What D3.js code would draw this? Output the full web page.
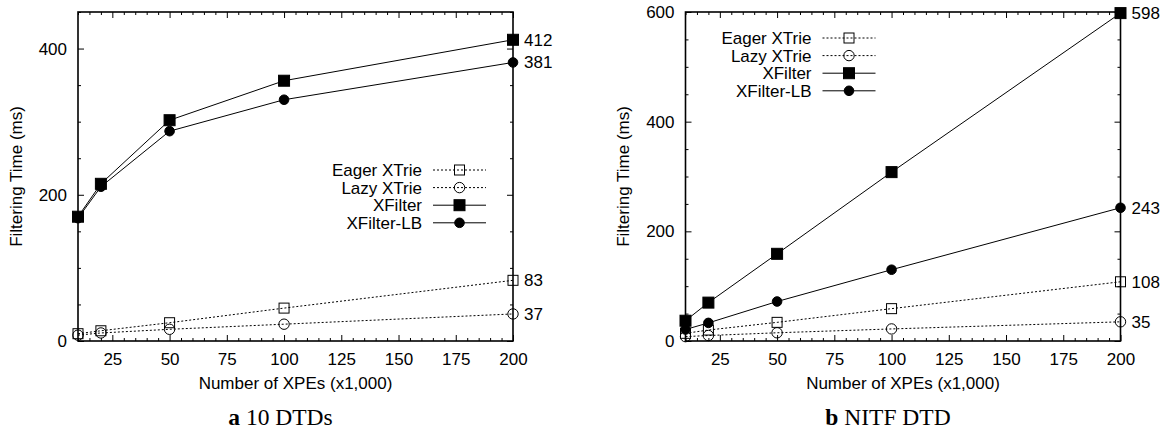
<!DOCTYPE html>
<html>
<head>
<meta charset="utf-8">
<script src="https://cdn.jsdelivr.net/npm/d3@7"></script>
<style>
  body { margin: 0; background: #fff; }
  svg { display: block; }
  text { font-family: "Liberation Sans", Arial, sans-serif; font-size: 17px; fill: #000; }
  .caption { font-family: "Liberation Serif", "Times New Roman", serif; font-size: 23.5px; }
</style>
</head>
<body>
<div class="chart-container"></div>
<script>
// x values (thousands of XPEs)
var xValues = [10, 20, 50, 100, 200];
var seriesNames = ["Eager XTrie", "Lazy XTrie", "XFilter", "XFilter-LB"];

// panel a: 10 DTDs
var aEager = [10, 14, 25, 45, 83];
var aLazy = [8, 11, 16, 23, 37];
var aXFilter = [170, 215, 302, 356, 412];
var aXFilterLB = [168, 211, 287, 330, 381];

// panel b: NITF DTD
var bEager = [14, 20, 34, 59, 108];
var bLazy = [8, 10, 15, 22, 35];
var bXFilter = [37, 70, 159, 308, 598];
var bXFilterLB = [21, 33, 72, 130, 243];

var xTickLabels = [25, 50, 75, 100, 125, 150, 175, 200];
var aYTicks = [0, 200, 400];
var bYTicks = [0, 200, 400, 600];

var styles = [
    { dash: "2,2", marker: "square", fill: "none" },
    { dash: "2,2", marker: "circle", fill: "none" },
    { dash: null, marker: "square", fill: "#000" },
    { dash: null, marker: "circle", fill: "#000" }
];

var svg = d3.select(".chart-container").append("svg")
    .attr("width", 1163)
    .attr("height", 435);

drawPanel({
    left: 78, top: 12, width: 435, height: 329,
    yMax: 450, yTicks: aYTicks,
    series: [aEager, aLazy, aXFilter, aXFilterLB],
    legend: { x: 344, y: 158 },
    ylabelX: 22,
    caption: ["a", " 10 DTDs"]
});

drawPanel({
    left: 685.5, top: 12, width: 435, height: 329,
    yMax: 600, yTicks: bYTicks,
    series: [bEager, bLazy, bXFilter, bXFilterLB],
    legend: { x: 126, y: 26 },
    ylabelX: 629,
    caption: ["b", " NITF DTD"]
});

function drawPanel(cfg) {
    var x = d3.scaleLinear().domain([10, 200]).range([0, cfg.width]);
    var y = d3.scaleLinear().domain([0, cfg.yMax]).range([cfg.height, 0]);

    var g = svg.append("g")
        .attr("transform", "translate(" + cfg.left + "," + cfg.top + ")");

    var xMinor = d3.range(10, 201, 5).filter(function (d) { return xTickLabels.indexOf(d) < 0; });
    var yMinor = d3.range(0, cfg.yMax + 1, 50).filter(function (d) { return cfg.yTicks.indexOf(d) < 0; });

    // major ticks + labels, inward
    g.append("g")
        .attr("transform", "translate(0," + cfg.height + ")")
        .call(d3.axisBottom(x).tickValues(xTickLabels).tickSizeInner(-6).tickSizeOuter(0).tickPadding(12));
    g.append("g")
        .call(d3.axisLeft(y).tickValues(cfg.yTicks).tickSizeInner(-6).tickSizeOuter(0).tickPadding(11));
    // mirrored ticks
    g.append("g")
        .call(d3.axisTop(x).tickValues(xTickLabels).tickSizeInner(-6).tickSizeOuter(0).tickFormat(""));
    g.append("g")
        .attr("transform", "translate(" + cfg.width + ",0)")
        .call(d3.axisRight(y).tickValues(cfg.yTicks).tickSizeInner(-6).tickSizeOuter(0).tickFormat(""));
    // minor ticks
    g.append("g")
        .attr("transform", "translate(0," + cfg.height + ")")
        .call(d3.axisBottom(x).tickValues(xMinor).tickSizeInner(-3).tickSizeOuter(0).tickFormat(""));
    g.append("g")
        .call(d3.axisTop(x).tickValues(xMinor).tickSizeInner(-3).tickSizeOuter(0).tickFormat(""));
    g.append("g")
        .call(d3.axisLeft(y).tickValues(yMinor).tickSizeInner(-3).tickSizeOuter(0).tickFormat(""));
    g.append("g")
        .attr("transform", "translate(" + cfg.width + ",0)")
        .call(d3.axisRight(y).tickValues(yMinor).tickSizeInner(-3).tickSizeOuter(0).tickFormat(""));

    g.selectAll(".domain").remove();
    g.selectAll(".tick line").attr("stroke", "#000").attr("stroke-width", 1);
    g.selectAll(".tick text").attr("font-size", null).attr("font-family", null);

    g.append("rect")
        .attr("width", cfg.width).attr("height", cfg.height)
        .attr("fill", "none").attr("stroke", "#000").attr("stroke-width", 1.6);

    // axis titles
    g.append("text")
        .attr("x", cfg.width / 2).attr("y", cfg.height + 48)
        .attr("text-anchor", "middle")
        .text("Number of XPEs (x1,000)");
    svg.append("text")
        .attr("transform", "translate(" + cfg.ylabelX + "," + (cfg.top + cfg.height / 2) + ") rotate(-90)")
        .attr("text-anchor", "middle")
        .text("Filtering Time (ms)");

    var line = d3.line()
        .x(function (d, i) { return x(xValues[i]); })
        .y(function (d) { return y(d); });

    cfg.series.forEach(function (vals, k) {
        var st = styles[k];
        g.append("path")
            .datum(vals)
            .attr("d", line)
            .attr("fill", "none")
            .attr("stroke", "#000")
            .attr("stroke-width", 1)
            .attr("stroke-dasharray", st.dash);
        vals.forEach(function (v, i) {
            drawMarker(g, x(xValues[i]), y(v), st);
        });
        // value label at the last point
        g.append("text")
            .attr("x", cfg.width + 11)
            .attr("y", y(vals[vals.length - 1]))
            .attr("dy", "0.35em")
            .text(vals[vals.length - 1]);
    });

    // legend
    var lg = g.append("g").attr("transform", "translate(" + cfg.legend.x + "," + cfg.legend.y + ")");
    seriesNames.forEach(function (name, k) {
        var st = styles[k];
        var ry = k * 17.6;
        lg.append("text")
            .attr("x", 0).attr("y", ry).attr("dy", "0.35em")
            .attr("text-anchor", "end")
            .text(name);
        lg.append("line")
            .attr("x1", 11).attr("x2", 64).attr("y1", ry).attr("y2", ry)
            .attr("stroke", "#000").attr("stroke-width", 1)
            .attr("stroke-dasharray", st.dash);
        drawMarker(lg, 37.5, ry, st);
    });

    // caption
    var cap = svg.append("text")
        .attr("class", "caption")
        .attr("x", cfg.left + cfg.width / 2 - 15)
        .attr("y", 425)
        .attr("text-anchor", "middle");
    cap.append("tspan").attr("font-weight", "bold").text(cfg.caption[0]);
    cap.append("tspan").text(cfg.caption[1]);
}

function drawMarker(sel, cx, cy, st) {
    if (st.marker === "square") {
        var s = st.fill === "none" ? 10 : 11;
        sel.append("rect")
            .attr("x", cx - s / 2).attr("y", cy - s / 2)
            .attr("width", s).attr("height", s)
            .attr("fill", st.fill).attr("stroke", "#000").attr("stroke-width", 1);
    } else {
        sel.append("circle")
            .attr("cx", cx).attr("cy", cy)
            .attr("r", st.fill === "none" ? 5.2 : 4.8)
            .attr("fill", st.fill).attr("stroke", "#000").attr("stroke-width", 1);
    }
}
</script>
</body>
</html>
